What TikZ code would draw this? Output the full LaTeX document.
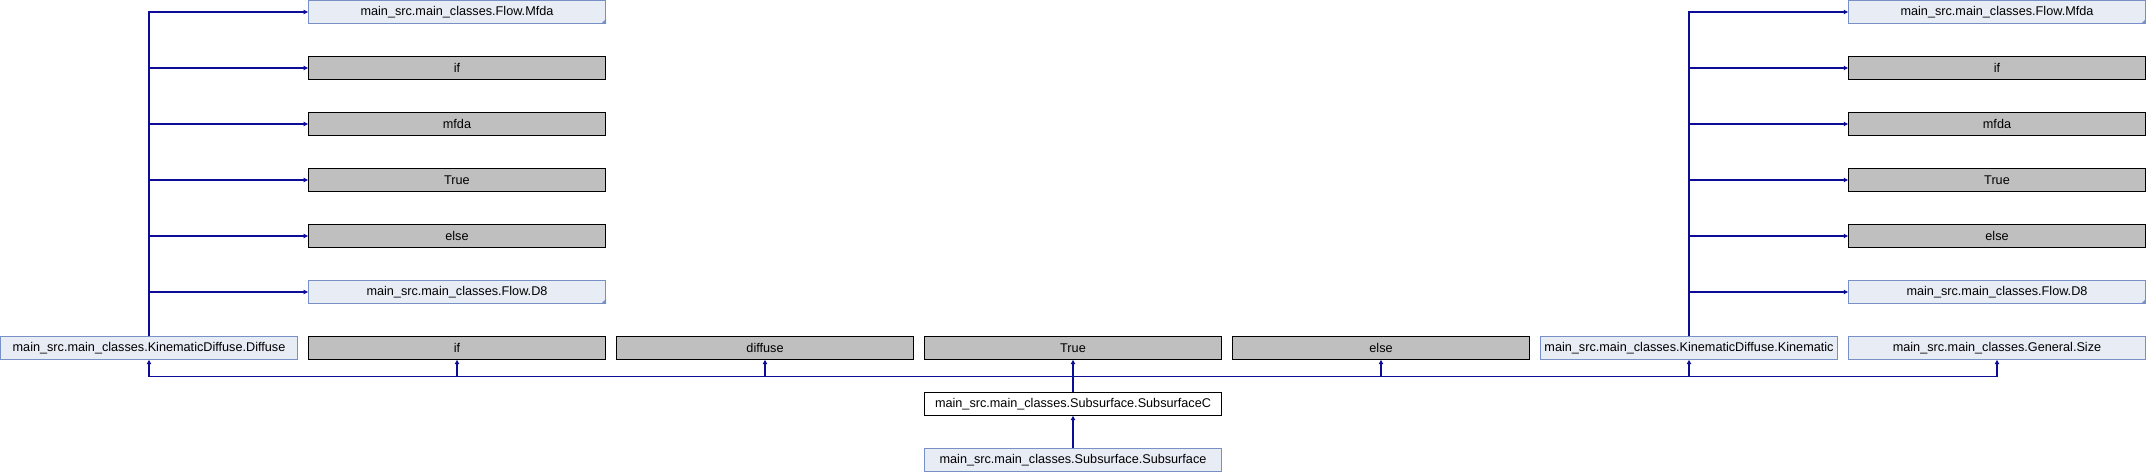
\documentclass[tikz,border=0pt]{standalone}
\usepackage{fontspec}
\setmainfont{Liberation Sans}
\usepackage{xcolor}
\usetikzlibrary{arrows.meta}
\definecolor{refFill}{HTML}{E8ECF5}
\definecolor{refDraw}{HTML}{7890C8}
\definecolor{keyFill}{HTML}{BFBFBF}
\definecolor{edgeBlue}{HTML}{0C0C96}
\begin{document}
\begin{tikzpicture}[x=0.75pt,y=0.75pt]
  \tikzset{class box/.style={draw=#1,line width=0.75pt,minimum width=222.75pt,minimum height=16.95pt,inner sep=0pt,font=\fontsize{9.5}{11}\selectfont},
    ref box/.style={class box=refDraw,fill=refFill},
    key box/.style={class box=black,fill=keyFill},
    edge/.style={draw=edgeBlue,line width=0.8pt,-{Triangle[length=3.2pt,width=3.2pt]}}}
  \useasboundingbox (0,0) rectangle (2146,472);
  % upper left
  \node [ref box] (MfdaL) at (457,460) {main\_src.main\_classes.Flow.Mfda};
  \node [key box] (IfL) at (457,404) {if};
  \node [key box] (mfdaL) at (457,348) {mfda};
  \node [key box] (TrueL) at (457,292) {True};
  \node [key box] (ElseL) at (457,236) {else};
  \node [ref box] (DeightL) at (457,180) {main\_src.main\_classes.Flow.D8};
  % upper right
  \node [ref box] (MfdaR) at (1997,460) {main\_src.main\_classes.Flow.Mfda};
  \node [key box] (IfR) at (1997,404) {if};
  \node [key box] (mfdaR) at (1997,348) {mfda};
  \node [key box] (TrueR) at (1997,292) {True};
  \node [key box] (ElseR) at (1997,236) {else};
  \node [ref box] (DeightR) at (1997,180) {main\_src.main\_classes.Flow.D8};
  % base row
  \node [ref box] (Diffuse) at (149,124) {main\_src.main\_classes.KinematicDiffuse.Diffuse};
  \node [key box] (IfB) at (457,124) {if};
  \node [key box] (diffuseB) at (765,124) {diffuse};
  \node [key box] (TrueB) at (1073,124) {True};
  \node [key box] (ElseB) at (1381,124) {else};
  \node [ref box] (Kinematic) at (1689,124) {main\_src.main\_classes.KinematicDiffuse.Kinematic};
  \node [ref box] (Size) at (1997,124) {main\_src.main\_classes.General.Size};
  % subsurface
  \node [class box=black,fill=white] (SubC) at (1073,68) {main\_src.main\_classes.Subsurface.SubsurfaceC};
  \node [ref box] (Sub) at (1073,12) {main\_src.main\_classes.Subsurface.Subsurface};
  \coordinate (bus) at (1073,95.7);
  % folded corners
  \fill[refDraw] (MfdaL.south east) -- ++(-5,0) -- ++(5,5) -- cycle;
  \fill[refDraw] (DeightL.south east) -- ++(-5,0) -- ++(5,5) -- cycle;
  \fill[refDraw] (MfdaR.south east) -- ++(-5,0) -- ++(5,5) -- cycle;
  \fill[refDraw] (DeightR.south east) -- ++(-5,0) -- ++(5,5) -- cycle;
  % edges
  \draw[edge] (Diffuse.north) |- (MfdaL.west);
  \draw[edge] (Diffuse.north) |- (IfL.west);
  \draw[edge] (Diffuse.north) |- (mfdaL.west);
  \draw[edge] (Diffuse.north) |- (TrueL.west);
  \draw[edge] (Diffuse.north) |- (ElseL.west);
  \draw[edge] (Diffuse.north) |- (DeightL.west);
  \draw[edge] (Kinematic.north) |- (MfdaR.west);
  \draw[edge] (Kinematic.north) |- (IfR.west);
  \draw[edge] (Kinematic.north) |- (mfdaR.west);
  \draw[edge] (Kinematic.north) |- (TrueR.west);
  \draw[edge] (Kinematic.north) |- (ElseR.west);
  \draw[edge] (Kinematic.north) |- (DeightR.west);
  \draw[edge] (SubC.north) -- (bus) -| (Diffuse.south);
  \draw[edge] (SubC.north) -- (bus) -| (IfB.south);
  \draw[edge] (SubC.north) -- (bus) -| (diffuseB.south);
  \draw[edge] (SubC.north) -- (TrueB.south);
  \draw[edge] (SubC.north) -- (bus) -| (ElseB.south);
  \draw[edge] (SubC.north) -- (bus) -| (Kinematic.south);
  \draw[edge] (SubC.north) -- (bus) -| (Size.south);
  \draw[edge] (Sub.north) -- (SubC.south);
\end{tikzpicture}
\end{document}
